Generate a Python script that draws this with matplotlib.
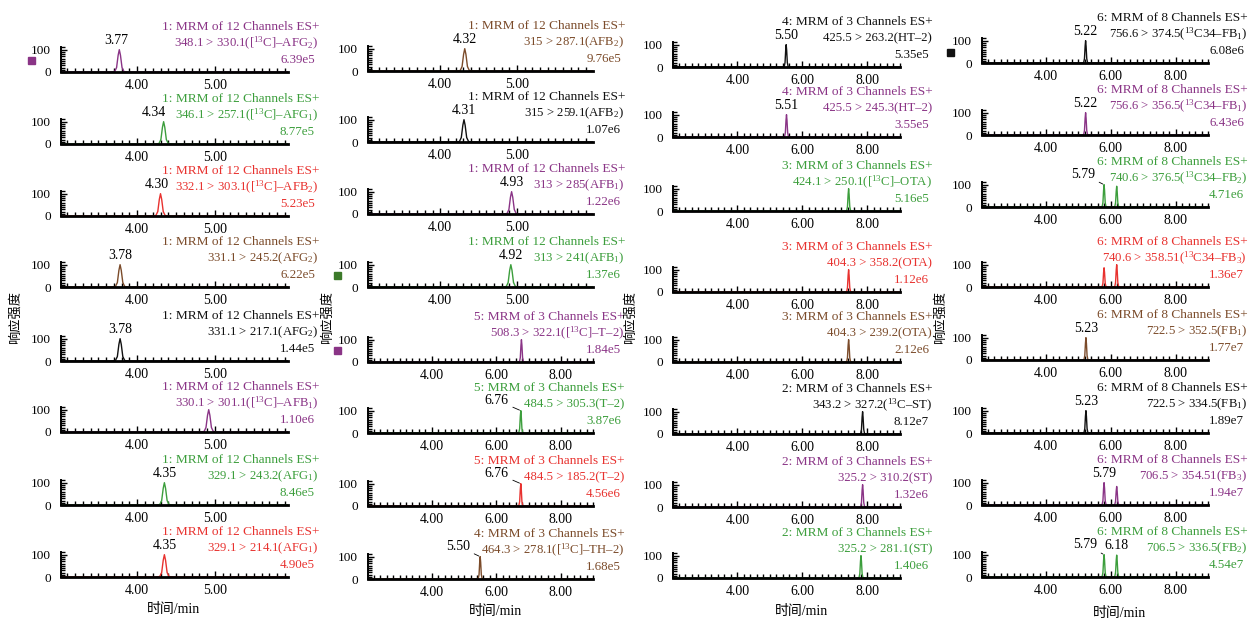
import matplotlib
matplotlib.use("Agg")
import matplotlib.pyplot as plt
from matplotlib.ticker import MultipleLocator, FixedLocator, FormatStrFormatter
from matplotlib.patches import Rectangle

plt.rcParams['font.family'] = ['Liberation Serif', 'DejaVu Serif', 'Noto Sans CJK SC']
plt.rcParams['mathtext.fontset'] = 'custom'
plt.rcParams['mathtext.rm'] = 'Liberation Serif'
plt.rcParams['mathtext.it'] = 'Liberation Serif:italic'

# ---- data (4 columns x 8 rows of MRM chromatograms) ----
headers = [
    ["1: MRM of 12 Channels ES+"] * 8,
    ["1: MRM of 12 Channels ES+"] * 4 + ["5: MRM of 3 Channels ES+"] * 3 + ["4: MRM of 3 Channels ES+"],
    ["4: MRM of 3 Channels ES+"] * 2 + ["3: MRM of 3 Channels ES+"] * 3 + ["2: MRM of 3 Channels ES+"] * 3,
    ["6: MRM of 8 Channels ES+"] * 8,
]
transitions = [
    [r"348.1 > 330.1([$^{13}$C]–AFG$_2$)", r"346.1 > 257.1([$^{13}$C]–AFG$_1$)",
     r"332.1 > 303.1([$^{13}$C]–AFB$_2$)", r"331.1 > 245.2(AFG$_2$)", r"331.1 > 217.1(AFG$_2$)",
     r"330.1 > 301.1([$^{13}$C]–AFB$_1$)", r"329.1 > 243.2(AFG$_1$)", r"329.1 > 214.1(AFG$_1$)"],
    [r"315 > 287.1(AFB$_2$)", r"315 > 259.1(AFB$_2$)", r"313 > 285(AFB$_1$)", r"313 > 241(AFB$_1$)",
     r"508.3 > 322.1([$^{13}$C]–T–2)", "484.5 > 305.3(T–2)", "484.5 > 185.2(T–2)",
     r"464.3 > 278.1([$^{13}$C]–TH–2)"],
    ["425.5 > 263.2(HT–2)", "425.5 > 245.3(HT–2)", r"424.1 > 250.1([$^{13}$C]–OTA)",
     "404.3 > 358.2(OTA)", "404.3 > 239.2(OTA)", r"343.2 > 327.2($^{13}$C–ST)",
     "325.2 > 310.2(ST)", "325.2 > 281.1(ST)"],
    [r"756.6 > 374.5($^{13}$C34–FB$_1$)", r"756.6 > 356.5($^{13}$C34–FB$_1$)",
     r"740.6 > 376.5($^{13}$C34–FB$_2$)", r"740.6 > 358.51($^{13}$C34–FB$_3$)",
     r"722.5 > 352.5(FB$_1$)", r"722.5 > 334.5(FB$_1$)",
     r"706.5 > 354.51(FB$_3$)", r"706.5 > 336.5(FB$_2$)"],
]
intensities = [
    ["6.39e5", "8.77e5", "5.23e5", "6.22e5", "1.44e5", "1.10e6", "8.46e5", "4.90e5"],
    ["9.76e5", "1.07e6", "1.22e6", "1.37e6", "1.84e5", "3.87e6", "4.56e6", "1.68e5"],
    ["5.35e5", "3.55e5", "5.16e5", "1.12e6", "2.12e6", "8.12e7", "1.32e6", "1.40e6"],
    ["6.08e6", "6.43e6", "4.71e6", "1.36e7", "1.77e7", "1.89e7", "1.94e7", "4.54e7"],
]
peak_rt = [
    [[3.77], [4.34], [4.30], [3.78], [3.78], [4.92], [4.35], [4.35]],
    [[4.32], [4.31], [4.93], [4.92], [6.78], [6.76], [6.76], [5.50]],
    [[5.50], [5.51], [7.42], [7.42], [7.42], [7.85], [7.85], [7.80]],
    [[5.22], [5.22], [5.79, 6.18], [5.79, 6.18], [5.23], [5.23], [5.79, 6.18], [5.79, 6.18]],
]
peak_height = [
    [[100]] * 8,
    [[100]] * 8,
    [[100]] * 8,
    [[100], [100], [100, 93], [86, 100], [100], [100], [100, 83], [100, 98]],
]
peak_text = [
    [["3.77"], ["4.34"], ["4.30"], ["3.78"], ["3.78"], [""], ["4.35"], ["4.35"]],
    [["4.32"], ["4.31"], ["4.93"], ["4.92"], [""], ["6.76"], ["6.76"], ["5.50"]],
    [["5.50"], ["5.51"], [""], [""], [""], [""], [""], [""]],
    [["5.22"], ["5.22"], ["5.79", ""], ["", ""], ["5.23"], ["5.23"], ["5.79", ""], ["5.79", "6.18"]],
]
# shape of a single chromatographic peak (offset in min, % of peak height)
peak_dt = [-0.12, -0.06, -0.035, -0.015, 0.0, 0.015, 0.035, 0.06, 0.12]
peak_rel = [0, 2, 20, 75, 100, 75, 20, 2, 0]

# ---- styles / layout ----
PURPLE, GREEN, RED, BROWN, BLACK = '#8a3486', '#3c9e3c', '#e8322f', '#7b4b2a', '#111111'
colors = [
    [PURPLE, GREEN, RED, BROWN, BLACK, PURPLE, GREEN, RED],
    [BROWN, BLACK, PURPLE, GREEN, PURPLE, GREEN, RED, BROWN],
    [BLACK, PURPLE, GREEN, RED, BROWN, BLACK, PURPLE, GREEN],
    [BLACK, PURPLE, GREEN, RED, BROWN, BLACK, PURPLE, GREEN],
]
W, H = 1256, 622
col_left = [61, 368, 673, 982]
col_right = [288, 593, 900, 1208]
col_text_dx = [31, 32, 33, 40]
baselines = [
    [72, 144, 216, 287, 361, 432, 505, 577],
    [71, 142, 214, 287, 362, 433, 506, 579],
    [67, 137, 211, 292, 362, 434, 507, 578],
    [63, 135, 207, 287, 360, 433, 505, 577],
]
short_range = (3.02, 5.94)
long_range = (2.02, 9.0)
# horizontal shift (pixels) of some retention-time labels, and which get a leader line
label_shift = {(0, 0, 0): -3, (0, 1, 0): -10, (0, 2, 0): -4,
               (1, 5, 0): -24, (1, 6, 0): -24, (1, 7, 0): -22, (3, 2, 0): -21, (3, 7, 0): -19}
leader = {(1, 5, 0), (1, 6, 0), (1, 7, 0), (3, 2, 0), (3, 7, 0)}

fig = plt.figure(figsize=(W / 100, H / 100), dpi=100)

for c in range(4):
    for r in range(8):
        base = baselines[c][r]
        ax = fig.add_axes([col_left[c] / W, (H - base) / H,
                           (col_right[c] - col_left[c]) / W, 25 / H])
        short = (c == 0) or (c == 1 and r < 4)
        x0, x1 = short_range if short else long_range
        if c == 1 and short:
            x0, x1 = 3.06, 5.99

        xs, ys = [x0], [0]
        for rt, h in zip(peak_rt[c][r], peak_height[c][r]):
            xs += [rt + d for d in peak_dt]
            ys += [h * p / 100 for p in peak_rel]
        xs.append(x1)
        ys.append(0)
        ax.plot(xs, ys, color=colors[c][r], lw=1.0, zorder=2)

        ax.set_xlim(x0, x1)
        ax.set_ylim(0, 112)
        for s in ['top', 'right']:
            ax.spines[s].set_visible(False)
        ax.spines['bottom'].set_linewidth(2.0)
        ax.spines['left'].set_linewidth(1.4)
        ax.patch.set_alpha(0)

        if short:
            ax.xaxis.set_major_locator(FixedLocator([4, 5]))
            ax.xaxis.set_minor_locator(MultipleLocator(0.1))
        else:
            ax.xaxis.set_major_locator(FixedLocator([4, 6, 8]))
            ax.xaxis.set_minor_locator(MultipleLocator(0.2))
        ax.xaxis.set_major_formatter(FormatStrFormatter('%.2f'))
        ax.set_yticks([0, 100])
        ax.yaxis.set_minor_locator(MultipleLocator(10))
        ax.tick_params(axis='x', which='major', direction='in', length=4, width=1,
                       labelsize=10, pad=5)
        ax.tick_params(axis='x', which='minor', direction='in', length=3, width=1)
        ax.tick_params(axis='y', which='major', direction='in', length=4, width=1,
                       labelsize=9.5, pad=7)
        ax.tick_params(axis='y', which='minor', direction='in', length=3, width=1)

        for k, (rt, h, t) in enumerate(zip(peak_rt[c][r], peak_height[c][r], peak_text[c][r])):
            if not t:
                continue
            dx = label_shift.get((c, r, k), 0)
            if (c, r, k) in leader:
                ax.annotate(t, xy=(rt, h), xytext=(dx, 4), textcoords='offset pixels',
                            ha='center', va='bottom', fontsize=10, color='black',
                            arrowprops=dict(arrowstyle='-', lw=0.6, color='black',
                                            shrinkA=1, shrinkB=1),
                            annotation_clip=False)
            else:
                ax.annotate(t, xy=(rt, h), xytext=(dx, 3), textcoords='offset pixels',
                            ha='center', va='bottom', fontsize=10, color='black',
                            annotation_clip=False)

        dxt = col_text_dx[c]
        lines = [headers[c][r], transitions[c][r], intensities[c][r]]
        for line, dy, ddx, fs in zip(lines, [45, 29, 12], [0, -1, -4], [9.6, 9.2, 9.4]):
            ax.annotate(line, xy=(1, 0), xycoords='axes fraction',
                        xytext=(dxt + ddx, dy), textcoords='offset pixels',
                        ha='right', va='center', fontsize=fs, color=colors[c][r],
                        annotation_clip=False)

# axis titles
for xp in [15, 327, 630, 940]:
    fig.text(xp / W, 1 - 318 / H, '响应强度', rotation=90, ha='center', va='center',
             fontsize=9.5, family=['Noto Sans CJK SC'])
for xp, yp in [(173, 610), (495, 612), (802, 612), (1120, 613)]:
    fig.text(xp / W, 1 - yp / H, '时间/min', ha='center', va='center', fontsize=10)

# small coloured square markers from the original scan
for xp, yp, col in [(31, 60, PURPLE), (337, 275, '#3c7a2a'), (337, 350, PURPLE), (950, 52, BLACK)]:
    fig.add_artist(Rectangle(((xp - 3.5) / W, 1 - (yp + 3.5) / H), 7 / W, 7 / H,
                             transform=fig.transFigure, color=col))

fig.savefig('out.png', dpi=100)
